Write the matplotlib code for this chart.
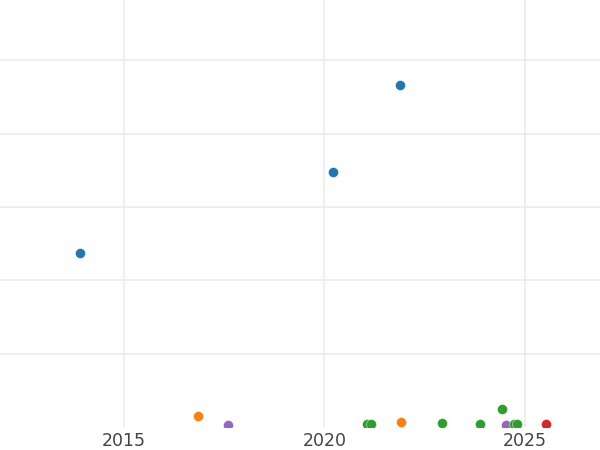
import matplotlib.pyplot as plt

# значения (x — год, y — условные единицы)
blue_x = [2013.91, 2020.21, 2021.88]
blue_y = [23.7, 34.8, 46.6]
orange_x = [2016.85, 2021.90]
orange_y = [1.5, 0.64]
green_x = [2021.05, 2021.15, 2022.93, 2023.87, 2024.43, 2024.73, 2024.79]
green_y = [0.45, 0.45, 0.55, 0.45, 2.45, 0.45, 0.45]
red_x = [2025.52]
red_y = [0.45]
purple_x = [2017.59, 2024.52]
purple_y = [0.27, 0.3]

x_ticks = [2015, 2020, 2025]
x_tick_labels = ["2015", "2020", "2025"]

series = [
    (blue_x, blue_y, "#1f77b4"),
    (orange_x, orange_y, "#ff7f0e"),
    (purple_x, purple_y, "#9467bd"),
    (green_x, green_y, "#2ca02c"),
    (red_x, red_y, "#d62728"),
]

fig = plt.figure(figsize=(6, 4.5), dpi=100)
ax = fig.add_axes([0, 0.0511, 1, 0.9489])

for xs, ys, color in series:
    ax.scatter(xs, ys, s=52, color=color, edgecolor="white", linewidth=0.3, zorder=3)

ax.set_xlim(2011.91, 2026.87)
ax.set_ylim(0, 58.2)
ax.set_xticks(x_ticks)
ax.set_xticklabels(x_tick_labels)
ax.set_yticks([10, 20, 30, 40, 50])
ax.set_yticklabels([])
ax.tick_params(axis="both", length=0)
ax.tick_params(axis="x", pad=3.5, labelsize=12.5, labelcolor="#444444")
ax.grid(True, color="#ebebeb", linewidth=1.1)
ax.set_axisbelow(True)
for spine in ax.spines.values():
    spine.set_visible(False)

fig.savefig("out.png", dpi=100)
plt.close(fig)
